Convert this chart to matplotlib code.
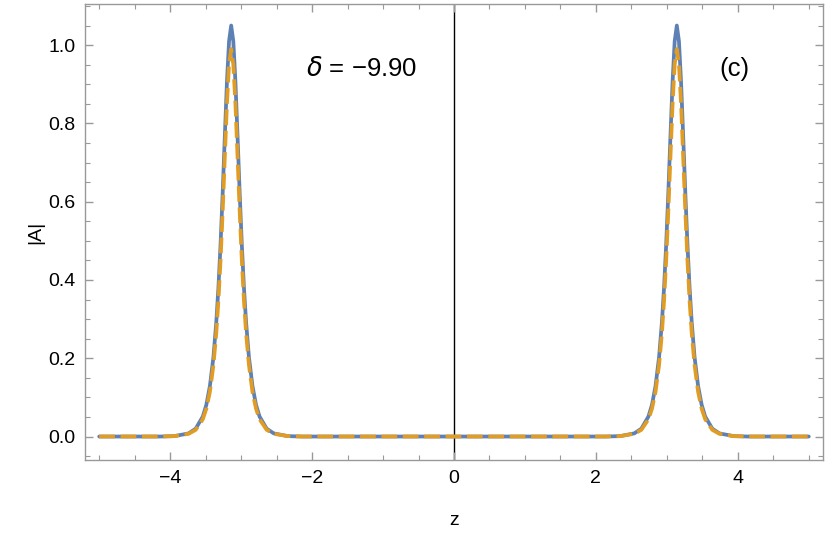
import matplotlib
matplotlib.use("Agg")
import matplotlib.pyplot as plt
from matplotlib.ticker import MultipleLocator
import numpy as np

plt.rcParams['font.family'] = ['Liberation Sans', 'DejaVu Sans']

# Peak centres
peak_centres = [-3.14, 3.14]
# Offsets from each peak centre and |A| values (symmetric peaks)
offsets = [0.0, 0.03, 0.06, 0.09, 0.12, 0.15, 0.18, 0.21, 0.25, 0.30, 0.35, 0.40, 0.50, 0.60, 0.80, 1.00]
blue_vals = [1.050, 1.010, 0.905, 0.766, 0.621, 0.490, 0.380, 0.292, 0.203, 0.129, 0.081, 0.051, 0.020, 0.008, 0.001, 0.0]
orange_vals = [0.990, 0.951, 0.849, 0.713, 0.575, 0.450, 0.347, 0.264, 0.183, 0.114, 0.071, 0.044, 0.017, 0.007, 0.001, 0.0]
z_range = [-5.0, 5.0]

xticks = [-4, -2, 0, 2, 4]
yticks = [0.0, 0.2, 0.4, 0.6, 0.8, 1.0]
annotation = "$\\delta$ = \u22129.90"
panel = "(c)"


def build(vals):
    pts = {}
    for c in peak_centres:
        for o, v in zip(offsets, vals):
            pts[round(c - o, 4)] = v
            pts[round(c + o, 4)] = v
    pts[z_range[0]] = 0.0
    pts[z_range[1]] = 0.0
    pts[0.0] = 0.0
    zs = sorted(pts)
    return zs, [pts[z] for z in zs]


fig = plt.figure(figsize=(8.3, 5.43), dpi=100)
ax = fig.add_axes([85 / 830, 1 - 460 / 543, 738 / 830, 456 / 543])

zb, ab = build(blue_vals)
zo, ao = build(orange_vals)

ax.axvline(0, color='black', lw=1.0, zorder=1)
ax.plot(zb, ab, color='#5E81B5', lw=2.7, solid_capstyle='round', zorder=2)
ax.plot(zo, ao, color='#E19C24', lw=2.7, dashes=(4.2, 1.5), zorder=3)

ax.set_xlim(-5.2, 5.2)
ax.set_ylim(-0.06, 1.105)
ax.set_xticks(xticks)
ax.set_xticklabels([("\u2212" if t < 0 else "") + str(abs(t)) for t in xticks])
ax.set_yticks(yticks)
ax.set_yticklabels([f"{t:.1f}" for t in yticks])
ax.xaxis.set_minor_locator(MultipleLocator(0.5))
ax.yaxis.set_minor_locator(MultipleLocator(0.05))

frame_col = '#999999'
for s in ax.spines.values():
    s.set_color(frame_col)
    s.set_linewidth(1.0)
ax.tick_params(which='both', direction='in', top=True, right=True, color=frame_col,
               labelsize=14, labelcolor='black')
ax.tick_params(which='major', length=6, width=1.0, pad=7)
ax.tick_params(which='minor', length=3.5, width=0.8)

ax.set_xlabel('z', fontsize=14, labelpad=18)
ax.set_ylabel('|A|', fontsize=14, labelpad=3)

ax.text(-1.30, 0.94, annotation, fontsize=18.5, ha='center', va='center')
ax.text(3.95, 0.94, panel, fontsize=18.5, ha='center', va='center')

fig.savefig('out.png', dpi=100)
